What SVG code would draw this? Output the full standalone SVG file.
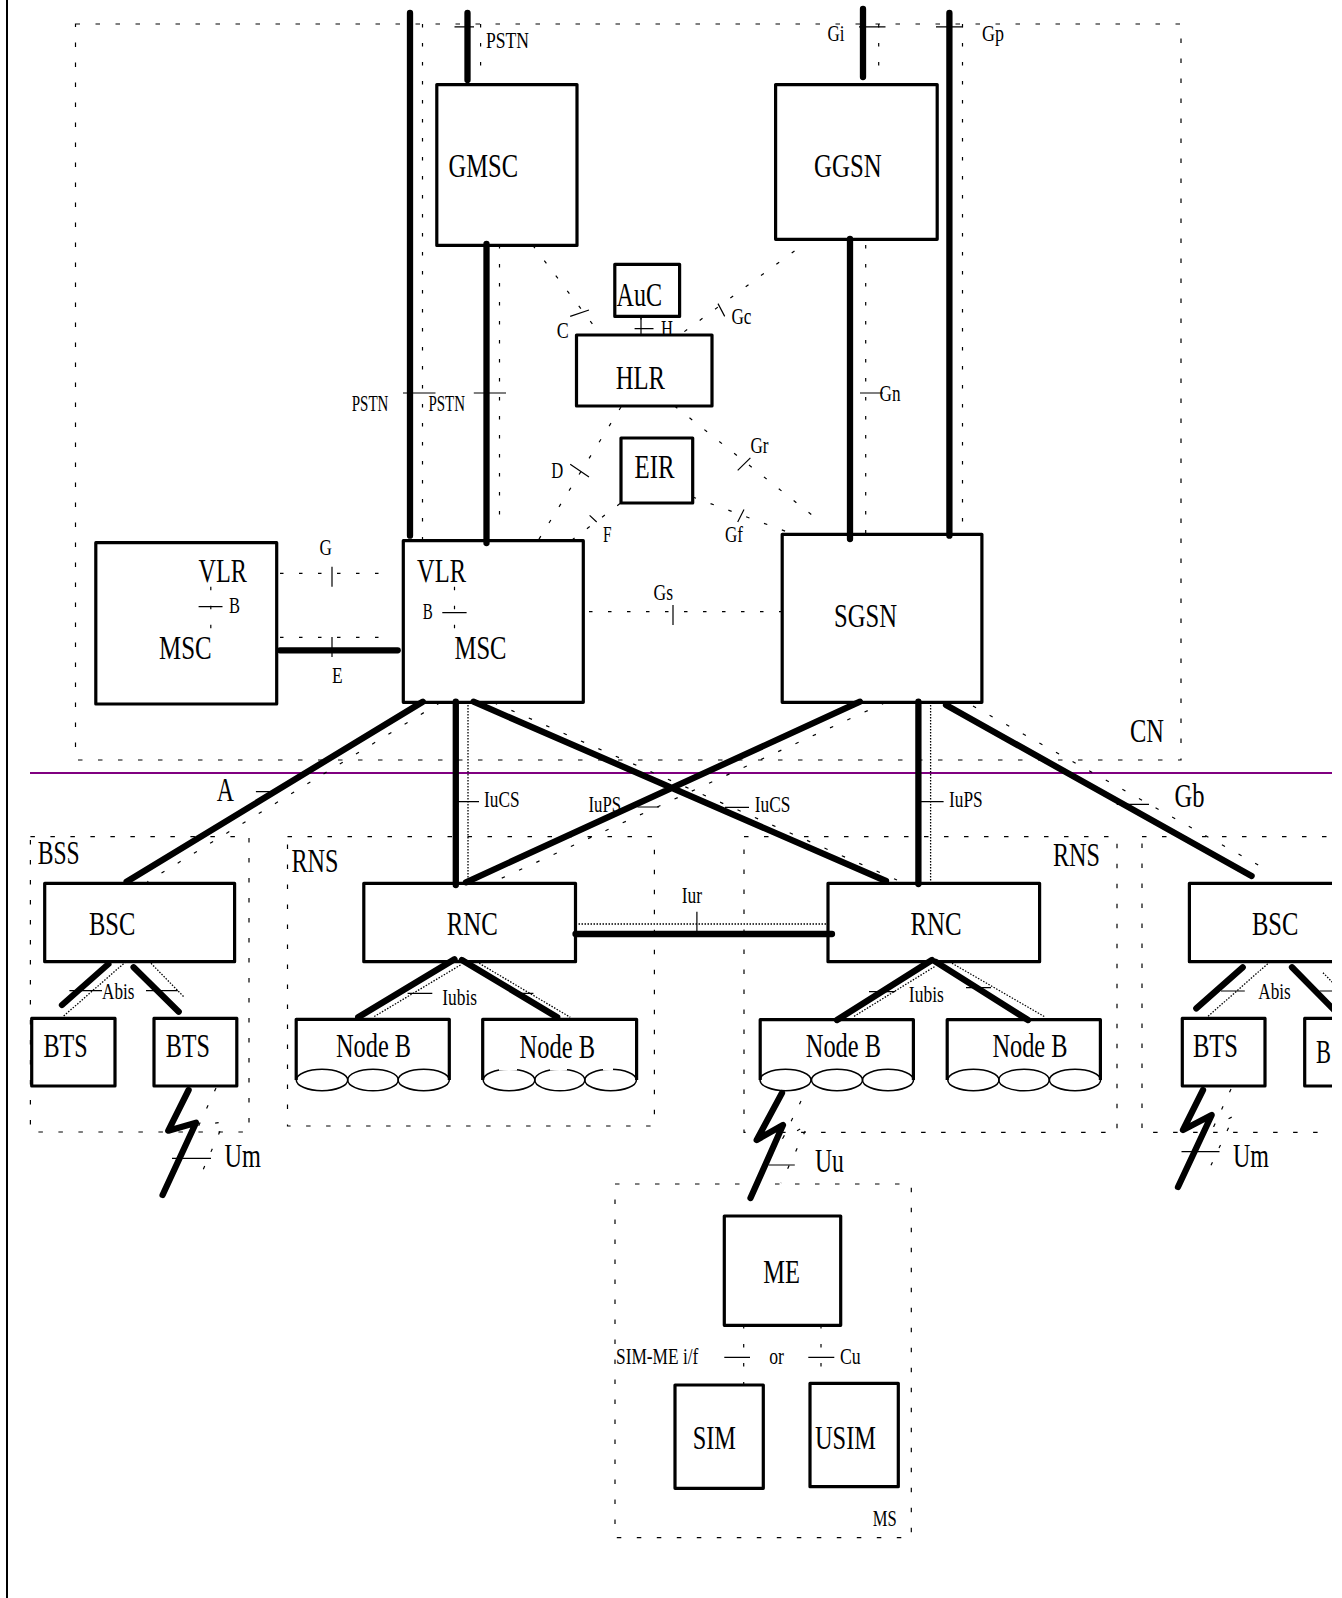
<svg xmlns="http://www.w3.org/2000/svg" width="1342" height="1598" viewBox="0 0 1342 1598">
<style>
text{font-family:"Liberation Serif","Times New Roman",serif;fill:#000}
.l{font-size:33px}.s{font-size:23.5px}
.r{fill:none;stroke:#000;stroke-width:1.2;stroke-dasharray:4.5 15.5}
.b{fill:#fff;fill-opacity:0;stroke:#000;stroke-width:3.2;stroke-linejoin:round}
.k{fill:none;stroke:#000;stroke-width:6.3;stroke-linecap:round;stroke-linejoin:round}
.d{fill:none;stroke:#000;stroke-width:1.2;stroke-dasharray:3.5 15.5}
.o{fill:none;stroke:#000;stroke-width:1.3;stroke-dasharray:1.5 1.5}
.t{fill:none;stroke:#000;stroke-width:1.2}
.c{fill:none;stroke:#000;stroke-width:1.5}
.g{fill:none;stroke:#fff;stroke-width:3}
</style>
<defs><clipPath id="page"><rect x="0" y="0" width="1332" height="1598"/></clipPath></defs>
<g clip-path="url(#page)">
<path d="M7 0V1598" stroke="#000" stroke-width="2" fill="none"/>
<path d="M30 773H1332" stroke="#800080" stroke-width="2" fill="none"/>

<g id="region-cn"><rect class="r" x="75.5" y="24" width="1105.5" height="736"/><text class="l" x="1130" y="742" textLength="34" lengthAdjust="spacingAndGlyphs">CN</text></g>
<g id="region-bss1"><rect class="r" x="30.4" y="836.7" width="218.6" height="295.3"/><text class="l" x="37.7" y="864" textLength="42" lengthAdjust="spacingAndGlyphs">BSS</text></g>
<g id="region-rns1"><rect class="r" x="287.5" y="836.7" width="366.9" height="289.3"/><text class="l" x="291.4" y="872" textLength="47" lengthAdjust="spacingAndGlyphs">RNS</text></g>
<g id="region-rns2"><rect class="r" x="744" y="836.7" width="373" height="295.6"/><text class="l" x="1053" y="865.7" textLength="47" lengthAdjust="spacingAndGlyphs">RNS</text></g>
<g id="region-bss2"><rect class="r" x="1142" y="836.7" width="220" height="295.6"/></g>
<g id="region-ms"><rect class="r" x="615" y="1184" width="296.3" height="353.7"/><text class="s" x="872.7" y="1526" textLength="24" lengthAdjust="spacingAndGlyphs">MS</text></g>

<g id="connectors">
<!-- thick -->
<path class="k" d="M410 13V535.7M467.5 13V80M486.5 244V543M863 9V77M949.4 13V535.7M850 239V539"/>
<path class="k" d="M280 650.3H397.7"/>
<path class="k" d="M422.8 701.7L126.6 881.7M455.8 701.7V885M473.5 701.7L886 881M860 701.7L466 882.3M918.4 701.7V884M946 705L1251.6 876"/>
<path class="k" d="M575.5 934H832"/>
<path class="k" d="M108.4 964L62 1005M133.6 967.3L178.7 1011.7"/>
<path class="k" d="M454.5 959.3L358.2 1017.3M461.8 960L557.2 1017.3"/>
<path class="k" d="M932 960L837 1020M935.4 961.7L1028 1020"/>
<path class="k" d="M1242.7 967.3L1196.3 1008.3M1292 967.3L1340 1016"/>
<path class="k" d="M188.6 1090L168.3 1130.7L196 1122.7L162.6 1195"/>
<path class="k" d="M782 1093L756.7 1140L783 1125L750.5 1198"/>
<path class="k" d="M1203 1090L1183 1130L1211.7 1115L1178 1187"/>
<!-- dashed -->
<path class="d" d="M422.5 24V541M480.6 24V71M499.5 245V530M878.7 24V71M962.5 24V535M865.7 245V535"/>
<path class="d" d="M532.8 245.4L594.6 326.8M794.5 251L678.8 335.7M621 407L537.8 541M674.6 406L817.7 519.6M620 503.6L570.6 541M692.7 497L794.5 534.6"/>
<path class="d" d="M641 316V335"/>
<path class="d" d="M210.8 586.7V630M454.5 586.7V630"/>
<path class="d" d="M280 573.3H386M280 637.3H386M589 611.7H782"/>
<path class="d" d="M440 702.7L147.4 881.7M494 702.7L897 880M885 702.7L494 881.7M973 706L1269 871"/>
<path class="d" d="M216 1088L199 1125L224 1122L197.3 1183M801 1101L783 1138L808 1125L781 1183M1231 1089L1214 1126L1234 1116L1206 1176"/>
<path class="d" d="M743.7 1325V1385M821 1325V1383"/>
<!-- dotted -->
<path class="o" d="M468 702V885M930.6 702V884M575.5 924H828"/>
<path class="o" d="M125.8 961.7L62.9 1016.7M151 963.3L184.3 997.3M460.5 965L373 1017.3M479.2 963.3L570.3 1017.3M934.5 966.7L853 1017M952 963.3L1045 1017M1270 961.7L1207.6 1016.7M1323 972.7L1340 990"/>
<!-- ticks -->
<path class="t" d="M454.5 26.8H474M859 26.8H885.5M936 26.8H962.5M634.6 328.6H653.5M641 316V335M860 393H883M403 393H435.5M473.8 393H506"/>
<path class="t" d="M570.2 316.4L589 310M718 303.6L724.7 316.4M570.2 464.3L589 477M737.7 470.4L750.4 457.9M589.6 515.4L596.7 522M744 509.6L737.7 522"/>
<path class="t" d="M198.6 606.7H222.5M332 566.7V586.7M332 637V657M442.3 612.7H466.6M673 605V625"/>
<path class="t" d="M255.9 791.7H277.5M458 801.7H479M637.5 807H659M725 807.3H749M921 801.7H943.6M1116.7 804.3H1149M696.9 911.7V931.7"/>
<path class="t" d="M69.4 990.7H102M146 990.7H177.8M407.6 993.3H432.3M518 993.3H533.4M869 991.7H895M966 987.7H991M1221 991H1244.8M1319.5 991H1332"/>
<path class="t" d="M172 1158.3H211M768.6 1165H794.8M1181.5 1151.7H1219.5M724.3 1357.3H750M808.3 1357.3H834.3"/>
<!-- labels -->
<text class="s" x="486" y="48" textLength="43" lengthAdjust="spacingAndGlyphs">PSTN</text>
<text class="s" x="827.4" y="41" textLength="17" lengthAdjust="spacingAndGlyphs">Gi</text>
<text class="s" x="982" y="41" textLength="22" lengthAdjust="spacingAndGlyphs">Gp</text>
<text class="s" x="661" y="335.7" textLength="12" lengthAdjust="spacingAndGlyphs">H</text>
<text class="s" x="556.8" y="337.5" textLength="12" lengthAdjust="spacingAndGlyphs">C</text>
<text class="s" x="731.4" y="324" textLength="20" lengthAdjust="spacingAndGlyphs">Gc</text>
<text class="s" x="879.6" y="400.7" textLength="21" lengthAdjust="spacingAndGlyphs">Gn</text>
<text class="s" x="351.8" y="410.7" textLength="36.6" lengthAdjust="spacingAndGlyphs">PSTN</text>
<text class="s" x="428.4" y="410.7" textLength="36.6" lengthAdjust="spacingAndGlyphs">PSTN</text>
<text class="s" x="551.3" y="478" textLength="12" lengthAdjust="spacingAndGlyphs">D</text>
<text class="s" x="750.4" y="453" textLength="18" lengthAdjust="spacingAndGlyphs">Gr</text>
<text class="s" x="603" y="541.8" textLength="8.5" lengthAdjust="spacingAndGlyphs">F</text>
<text class="s" x="725" y="541.8" textLength="18" lengthAdjust="spacingAndGlyphs">Gf</text>
<text class="s" x="229" y="612.7" textLength="11" lengthAdjust="spacingAndGlyphs">B</text>
<text class="s" x="422.8" y="619" textLength="10" lengthAdjust="spacingAndGlyphs">B</text>
<text class="s" x="319.6" y="555" textLength="12.4" lengthAdjust="spacingAndGlyphs">G</text>
<text class="s" x="332" y="683" textLength="10.6" lengthAdjust="spacingAndGlyphs">E</text>
<text class="s" x="653.5" y="600" textLength="19.5" lengthAdjust="spacingAndGlyphs">Gs</text>
<text class="l" x="216.8" y="801" textLength="17.2" lengthAdjust="spacingAndGlyphs">A</text>
<text class="s" x="484" y="806.7" textLength="35.5" lengthAdjust="spacingAndGlyphs">IuCS</text>
<text class="s" x="588.5" y="811.7" textLength="32.5" lengthAdjust="spacingAndGlyphs">IuPS</text>
<text class="s" x="754.8" y="812.3" textLength="35.7" lengthAdjust="spacingAndGlyphs">IuCS</text>
<text class="s" x="949" y="806.7" textLength="33.7" lengthAdjust="spacingAndGlyphs">IuPS</text>
<text class="l" x="1174.6" y="806.7" textLength="30" lengthAdjust="spacingAndGlyphs">Gb</text>
<text class="s" x="681.7" y="903" textLength="20.3" lengthAdjust="spacingAndGlyphs">Iur</text>
<text class="s" x="102" y="999" textLength="32.4" lengthAdjust="spacingAndGlyphs">Abis</text>
<text class="s" x="1258.3" y="999" textLength="32.5" lengthAdjust="spacingAndGlyphs">Abis</text>
<text class="s" x="442.3" y="1005" textLength="34.7" lengthAdjust="spacingAndGlyphs">Iubis</text>
<text class="s" x="908.8" y="1001.7" textLength="35" lengthAdjust="spacingAndGlyphs">Iubis</text>
<text class="l" x="224.6" y="1166.7" textLength="36.4" lengthAdjust="spacingAndGlyphs">Um</text>
<text class="l" x="815" y="1172.3" textLength="28.8" lengthAdjust="spacingAndGlyphs">Uu</text>
<text class="l" x="1233" y="1166.7" textLength="36" lengthAdjust="spacingAndGlyphs">Um</text>
<text class="s" x="616" y="1364.3" textLength="82.3" lengthAdjust="spacingAndGlyphs">SIM-ME i/f</text>
<text class="s" x="769.3" y="1364.3" textLength="14.7" lengthAdjust="spacingAndGlyphs">or</text>
<text class="s" x="840" y="1364.3" textLength="20.7" lengthAdjust="spacingAndGlyphs">Cu</text>
</g>

<g id="gmsc"><rect class="b" x="436.8" y="84.6" width="140.2" height="160.8"/><text class="l" x="448.6" y="176.8" textLength="69.4" lengthAdjust="spacingAndGlyphs">GMSC</text></g>
<g id="ggsn"><rect class="b" x="775.6" y="84.6" width="161.6" height="154.7"/><text class="l" x="814" y="176.8" textLength="67.7" lengthAdjust="spacingAndGlyphs">GGSN</text></g>
<g id="auc"><rect class="b" x="614.8" y="264.3" width="64.8" height="52.1"/><text class="l" x="616.5" y="306" textLength="45.5" lengthAdjust="spacingAndGlyphs">AuC</text></g>
<g id="hlr"><rect class="b" x="576.5" y="335" width="135.5" height="71"/><text class="l" x="615.7" y="388.6" textLength="49.3" lengthAdjust="spacingAndGlyphs">HLR</text></g>
<g id="eir"><rect class="b" x="621" y="438" width="71.7" height="65"/><text class="l" x="634.6" y="478" textLength="40" lengthAdjust="spacingAndGlyphs">EIR</text></g>
<g id="msc-vlr-1"><rect class="b" x="95.8" y="542.7" width="180.9" height="161.3"/><text class="l" x="198.6" y="581.7" textLength="48.4" lengthAdjust="spacingAndGlyphs">VLR</text><text class="l" x="159" y="658.7" textLength="52.6" lengthAdjust="spacingAndGlyphs">MSC</text></g>
<g id="msc-vlr-2"><rect class="b" x="403.3" y="540.7" width="180" height="161.6"/><text class="l" x="417" y="581.7" textLength="49" lengthAdjust="spacingAndGlyphs">VLR</text><text class="l" x="454.5" y="658.7" textLength="52" lengthAdjust="spacingAndGlyphs">MSC</text></g>
<g id="sgsn"><rect class="b" x="782.2" y="534.3" width="199.7" height="168"/><text class="l" x="834" y="626.7" textLength="63" lengthAdjust="spacingAndGlyphs">SGSN</text></g>
<g id="bsc-1"><rect class="b" x="44.7" y="883.3" width="189.9" height="78.4"/><text class="l" x="88.9" y="935" textLength="46.4" lengthAdjust="spacingAndGlyphs">BSC</text></g>
<g id="rnc-1"><rect class="b" x="363.8" y="883.3" width="211.7" height="78.4"/><text class="l" x="446.7" y="935" textLength="51.1" lengthAdjust="spacingAndGlyphs">RNC</text></g>
<g id="rnc-2"><rect class="b" x="828" y="883.3" width="211.6" height="78.4"/><text class="l" x="910.5" y="935" textLength="51.1" lengthAdjust="spacingAndGlyphs">RNC</text></g>
<g id="bsc-2"><rect class="b" x="1189.4" y="883.3" width="200" height="78.4"/><text class="l" x="1252" y="935" textLength="46.4" lengthAdjust="spacingAndGlyphs">BSC</text></g>
<g id="bts-1"><rect class="b" x="31.7" y="1018.3" width="83.3" height="67.7"/><text class="l" x="43.4" y="1057.3" textLength="44.2" lengthAdjust="spacingAndGlyphs">BTS</text></g>
<g id="bts-2"><rect class="b" x="154" y="1018.3" width="82.8" height="67.7"/><text class="l" x="165.7" y="1057.3" textLength="44.3" lengthAdjust="spacingAndGlyphs">BTS</text></g>
<g id="bts-3"><rect class="b" x="1182.3" y="1018.3" width="82.7" height="67.7"/><text class="l" x="1192.9" y="1057.3" textLength="45.1" lengthAdjust="spacingAndGlyphs">BTS</text></g>
<g id="bts-4"><rect class="b" x="1304.7" y="1018.3" width="83" height="67.7"/><text class="l" x="1316" y="1063" textLength="15" lengthAdjust="spacingAndGlyphs">B</text></g>
<g id="nodeb-1"><path class="b" d="M296.2 1080V1019.3H449.3V1080"/><ellipse class="c" cx="322" cy="1080" rx="25.7" ry="10.7"/><ellipse class="c" cx="373" cy="1080" rx="25.3" ry="10.7"/><ellipse class="c" cx="423.7" cy="1080" rx="25.6" ry="10.7"/><text class="l" x="336" y="1056.7" textLength="75" lengthAdjust="spacingAndGlyphs">Node B</text></g>
<g id="nodeb-2"><path class="b" d="M482.7 1080V1019.3H636.6V1080"/><ellipse class="c" cx="509" cy="1080" rx="25.8" ry="10.7"/><ellipse class="c" cx="559.8" cy="1080" rx="25" ry="10.7"/><ellipse class="c" cx="610.6" cy="1080" rx="25.8" ry="10.7"/><path class="g" d="M499 1069H517M550 1069H567M603 1069H613"/><text class="l" x="519.5" y="1058.3" textLength="75.5" lengthAdjust="spacingAndGlyphs">Node B</text></g>
<g id="nodeb-3"><path class="b" d="M760.2 1080V1019.7H913.4V1080"/><ellipse class="c" cx="785.5" cy="1080" rx="25.5" ry="10.7"/><ellipse class="c" cx="837" cy="1080" rx="25.5" ry="10.7"/><ellipse class="c" cx="888" cy="1080" rx="25.5" ry="10.7"/><text class="l" x="805.8" y="1056.7" textLength="75.2" lengthAdjust="spacingAndGlyphs">Node B</text></g>
<g id="nodeb-4"><path class="b" d="M947.2 1080V1019.7H1100.4V1080"/><ellipse class="c" cx="973.4" cy="1080" rx="25.6" ry="10.7"/><ellipse class="c" cx="1024" cy="1080" rx="25.2" ry="10.7"/><ellipse class="c" cx="1075" cy="1080" rx="25.6" ry="10.7"/><text class="l" x="992.4" y="1056.7" textLength="75.1" lengthAdjust="spacingAndGlyphs">Node B</text></g>
<g id="me"><rect class="b" x="724.3" y="1216" width="116.4" height="109.3"/><text class="l" x="763.3" y="1283" textLength="36.7" lengthAdjust="spacingAndGlyphs">ME</text></g>
<g id="sim"><rect class="b" x="675" y="1385" width="88.3" height="103.3"/><text class="l" x="692.7" y="1449.3" textLength="43.3" lengthAdjust="spacingAndGlyphs">SIM</text></g>
<g id="usim"><rect class="b" x="810" y="1383.3" width="88.3" height="103.4"/><text class="l" x="815" y="1449.3" textLength="61" lengthAdjust="spacingAndGlyphs">USIM</text></g>
</g>
</svg>
